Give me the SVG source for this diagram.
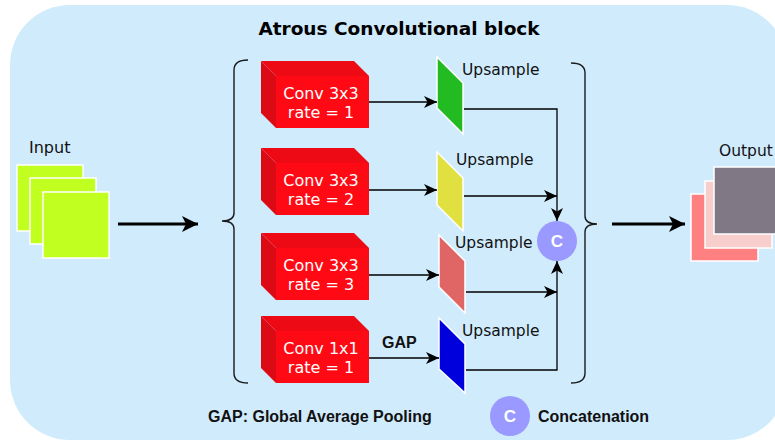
<svg xmlns="http://www.w3.org/2000/svg" width="775" height="442" viewBox="0 0 775 442">
  <defs>
    <style>
      .lbl { font-family: "DejaVu Sans", Verdana, sans-serif; font-size: 16px; fill: #111; }
      .up { font-family: "DejaVu Sans", Verdana, sans-serif; font-size: 15.5px; fill: #111; }
      .convtxt { font-family: "DejaVu Sans", Verdana, sans-serif; font-size: 16px; fill: #fff; text-anchor: middle; }
      .bold { font-family: "Liberation Sans", Arial, sans-serif; font-weight: bold; fill: #111; }
      .title { font-family: "DejaVu Sans", Verdana, sans-serif; font-weight: bold; font-size: 18.5px; fill: #000; text-anchor: middle; }
      .ctxt { font-family: "Liberation Sans", Arial, sans-serif; font-weight: bold; font-size: 17px; fill: #fff; text-anchor: middle; }
      .front { fill: #ff0a14; }
      .top { fill: #ee0a14; }
      .side { fill: #dc0a14; }
      .para { stroke: #fff; stroke-width: 1.5; }
      .sq { stroke: #fff; stroke-width: 1.5; }
      .thin { fill: none; stroke: #000; stroke-width: 1.3; }
      .thick { fill: none; stroke: #000; stroke-width: 3; }
      .brace { fill: none; stroke: #1a1a1a; stroke-width: 1.4; }
    </style>
    <marker id="ah" markerUnits="userSpaceOnUse" markerWidth="14" markerHeight="12" refX="13" refY="6" orient="auto">
      <path d="M0,0 L13,6 L0,12 L3.5,6 Z" fill="#000"/>
    </marker>
    <marker id="ahBig" markerUnits="userSpaceOnUse" markerWidth="17" markerHeight="16" refX="16" refY="8" orient="auto">
      <path d="M0,0 L16,8 L0,16 L4,8 Z" fill="#000"/>
    </marker>
  </defs>

  <!-- block background -->
  <rect x="10" y="5" width="777" height="435" rx="60" ry="60" fill="#d0ebfc"/>
  <text class="title" x="399" y="35">Atrous Convolutional block</text>

  <!-- input feature maps -->
  <g id="input">
    <rect class="sq" x="17" y="165" width="66" height="66" fill="#c0ff1f"/>
    <rect class="sq" x="30" y="178" width="66" height="66" fill="#c0ff1f"/>
    <rect class="sq" x="43" y="192" width="66" height="66" fill="#c0ff1f"/>
    <text class="lbl" x="29" y="153">Input</text>
  </g>

  <!-- braces -->
  <g id="brace-left">
    <path class="brace" d="M248,60 Q234,60 234,70 L234,213 Q234,221 222,221 Q234,221 234,229 L234,373 Q234,383 248,383"/>
  </g>
  <g id="brace-right">
    <path class="brace" d="M571,63 Q585,63 585,73 L585,216 Q585,224 597,224 Q585,224 585,232 L585,373 Q585,383 571,383"/>
  </g>

  <!-- convolution blocks -->
  <g id="conv1">
    <polygon class="top" points="261,61 354,61 369,76 276,76"/>
    <polygon class="side" points="261,61 276,76 276,128 261,113"/>
    <rect class="front" x="276" y="76" width="93" height="52"/>
    <text class="convtxt" x="321" y="99">Conv 3x3</text>
    <text class="convtxt" x="321" y="118">rate = 1</text>
  </g>
  <g id="conv2">
    <polygon class="top" points="261,148 354,148 369,163 276,163"/>
    <polygon class="side" points="261,148 276,163 276,215 261,200"/>
    <rect class="front" x="276" y="163" width="93" height="52"/>
    <text class="convtxt" x="321" y="186">Conv 3x3</text>
    <text class="convtxt" x="321" y="205">rate = 2</text>
  </g>
  <g id="conv3">
    <polygon class="top" points="261,233 354,233 369,248 276,248"/>
    <polygon class="side" points="261,233 276,248 276,300 261,285"/>
    <rect class="front" x="276" y="248" width="93" height="52"/>
    <text class="convtxt" x="321" y="271">Conv 3x3</text>
    <text class="convtxt" x="321" y="290">rate = 3</text>
  </g>
  <g id="conv4">
    <polygon class="top" points="261,316 354,316 369,331 276,331"/>
    <polygon class="side" points="261,316 276,331 276,383 261,368"/>
    <rect class="front" x="276" y="331" width="93" height="52"/>
    <text class="convtxt" x="321" y="354">Conv 1x1</text>
    <text class="convtxt" x="321" y="373">rate = 1</text>
  </g>

  <!-- upsample stages -->
  <g id="up1">
    <polygon class="para" points="437,57 463,83 463,134 437,108" fill="#22bb22"/>
    <text class="up" x="462" y="75">Upsample</text>
  </g>
  <g id="up2">
    <polygon class="para" points="437,152 463,178 463,231 437,205" fill="#e0e040"/>
    <text class="up" x="456" y="165">Upsample</text>
  </g>
  <g id="up3">
    <polygon class="para" points="439,235 465,261 465,313 439,287" fill="#e06666"/>
    <text class="up" x="455" y="248">Upsample</text>
  </g>
  <g id="up4">
    <polygon class="para" points="439,318 465,344 465,393 439,369" fill="#0000dd"/>
    <text class="up" x="462" y="336">Upsample</text>
  </g>

  <!-- concatenation -->
  <g id="concat">
    <circle cx="557" cy="241" r="20" fill="#9999ff"/>
    <text class="ctxt" x="557" y="247">C</text>
  </g>

  <!-- output feature maps -->
  <g id="output">
    <rect class="sq" x="691" y="194" width="67" height="67" fill="#ff8080"/>
    <rect class="sq" x="705" y="181" width="67" height="67" fill="#f8cecc"/>
    <rect class="sq" x="714" y="167" width="67" height="67" fill="#807885"/>
    <text class="up" x="719" y="156">Output</text>
  </g>

  <!-- connectors -->
  <g id="connectors">
    <line class="thick" x1="118" y1="224" x2="198" y2="224" marker-end="url(#ahBig)"/>
    <line class="thick" x1="612" y1="224" x2="685" y2="224" marker-end="url(#ahBig)"/>
    <line class="thin" x1="369" y1="102" x2="437" y2="102" marker-end="url(#ah)"/>
    <line class="thin" x1="369" y1="190" x2="437" y2="190" marker-end="url(#ah)"/>
    <line class="thin" x1="369" y1="275" x2="439" y2="275" marker-end="url(#ah)"/>
    <line class="thin" x1="369" y1="358" x2="439" y2="358" marker-end="url(#ah)"/>
    <polyline class="thin" points="464,109 557,109 557,221" marker-end="url(#ah)"/>
    <line class="thin" x1="464" y1="196" x2="557" y2="196" marker-end="url(#ah)"/>
    <line class="thin" x1="466" y1="292" x2="557" y2="292" marker-end="url(#ah)"/>
    <polyline class="thin" points="466,370 557,370 557,261" marker-end="url(#ah)"/>
    <text class="bold" x="382" y="348" font-size="16">GAP</text>
  </g>

  <!-- legend -->
  <g id="legend">
    <text class="bold" x="208" y="422" font-size="16">GAP: Global Average Pooling</text>
    <circle cx="510" cy="416" r="20" fill="#9999ff"/>
    <text class="ctxt" x="510" y="422">C</text>
    <text class="bold" x="538" y="422" font-size="16">Concatenation</text>
  </g>
</svg>
